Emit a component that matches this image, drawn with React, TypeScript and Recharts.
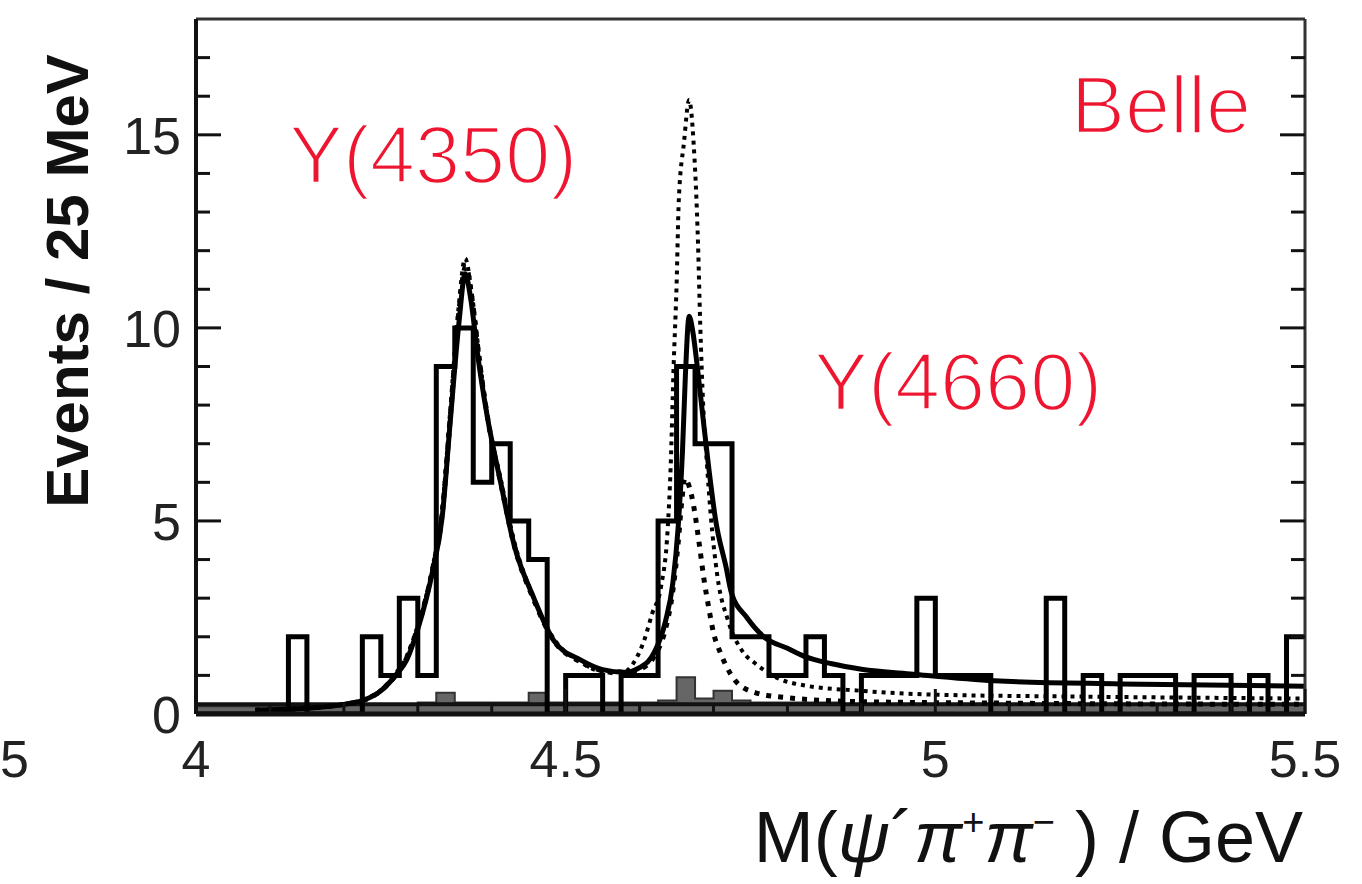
import { Area, ComposedChart, Line, ReferenceLine, XAxis, YAxis } from "recharts"

// histogram: events per 25 MeV bin, starting at 4.0 GeV
const BIN_START = 4.0
const BIN_WIDTH = 0.025
const counts = [
  0, 0, 0, 0, 0, 2, 0, 0, 0, 2, 1, 3, 1, 9, 10, 6, 7, 5, 4, 0, 1, 1, 0, 1, 1, 5,
  9, 7, 7, 2, 2, 1, 1, 2, 1, 0, 1, 1, 1, 3, 1, 1, 1, 0, 0, 0, 3, 0, 1, 0, 1, 1,
  1, 0, 1, 1, 0, 1, 0, 2,
]
// shaded sideband background
const bkgCounts = [
  0.2, 0.2, 0.2, 0.2, 0.2, 0.2, 0.2, 0.25, 0.25, 0.25, 0.25, 0.25, 0.3, 0.55,
  0.3, 0.3, 0.3, 0.3, 0.55, 0.3, 0.3, 0.3, 0.3, 0.3, 0.3, 0.35, 0.95, 0.4, 0.6,
  0.35, 0.3, 0.3, 0.3, 0.3, 0.3, 0.25, 0.25, 0.25, 0.25, 0.25, 0.25, 0.25, 0.25,
  0.25, 0.25, 0.25, 0.25, 0.25, 0.25, 0.25, 0.25, 0.25, 0.25, 0.25, 0.25, 0.25,
  0.25, 0.25, 0.25, 0.25,
]

// solid: total fit
const fitMass = [
  4.08, 4.15, 4.2, 4.23, 4.25, 4.27, 4.285, 4.3, 4.32, 4.333, 4.344, 4.356,
  4.364, 4.372, 4.381, 4.394, 4.412, 4.43, 4.457, 4.484, 4.52, 4.55, 4.58, 4.6,
  4.62, 4.635, 4.645, 4.652, 4.658, 4.662, 4.667, 4.672, 4.678, 4.685, 4.694,
  4.703, 4.717, 4.724, 4.745, 4.768, 4.8, 4.822, 4.86, 4.9, 4.97, 5.08, 5.25,
  5.5,
]
const fitTotal = [
  0.1, 0.15, 0.25, 0.38, 0.6, 1.0, 1.4, 2.2, 3.7, 5.1, 7.6, 10.2, 11.4, 10.7,
  9.3, 7.7, 6.0, 4.4, 3.0, 1.9, 1.4, 1.15, 1.08, 1.2, 1.6, 2.4, 3.4, 4.8, 6.8,
  8.8, 10.3, 9.9, 9.0, 7.8, 6.3, 5.0, 3.8, 3.15, 2.5, 2.0, 1.7, 1.5, 1.3, 1.16,
  1.03, 0.86, 0.78, 0.72,
]

// fine dots: second solution, tall Y(4660)
const altMass = [
  4.08, 4.15, 4.2, 4.23, 4.25, 4.27, 4.285, 4.3, 4.32, 4.333, 4.344, 4.355,
  4.364, 4.373, 4.383, 4.395, 4.412, 4.43, 4.457, 4.484, 4.52, 4.55, 4.58,
  4.591, 4.606, 4.617, 4.629, 4.638, 4.642, 4.646, 4.65, 4.653, 4.66, 4.667,
  4.673, 4.679, 4.682, 4.686, 4.691, 4.696, 4.705, 4.72, 4.74, 4.757, 4.79,
  4.82, 4.9, 5.0, 5.2, 5.5,
]
const altTotal = [
  0.1, 0.15, 0.25, 0.4, 0.62, 1.05, 1.5, 2.3, 3.8, 5.3, 7.9, 10.5, 11.8, 10.9,
  9.3, 7.6, 6.1, 4.5, 3.0, 1.95, 1.35, 1.1, 1.1, 1.3, 1.9, 2.6, 3.3, 4.8, 6.4,
  9.0, 11.1, 13.3, 14.8, 15.9, 14.8, 12.2, 10.1, 8.0, 6.5, 5.2, 3.6, 2.4, 1.6,
  1.3, 0.9, 0.75, 0.6, 0.5, 0.45, 0.4,
]

// coarse dots: low Y(4660)
const lowMass = [
  4.08, 4.15, 4.2, 4.23, 4.25, 4.27, 4.285, 4.3, 4.32, 4.333, 4.344, 4.355,
  4.365, 4.373, 4.383, 4.395, 4.412, 4.43, 4.457, 4.484, 4.52, 4.55, 4.58, 4.6,
  4.62, 4.635, 4.645, 4.652, 4.657, 4.661, 4.667, 4.673, 4.68, 4.687, 4.694,
  4.7, 4.709, 4.717, 4.73, 4.757, 4.8, 4.9, 5.1, 5.5,
]
const lowTotal = [
  0.1, 0.15, 0.25, 0.38, 0.6, 1.0, 1.45, 2.25, 3.75, 5.2, 7.7, 10.3, 11.6, 10.8,
  9.2, 7.6, 6.0, 4.4, 2.95, 1.9, 1.35, 1.12, 1.05, 1.15, 1.5, 2.2, 3.2, 4.4,
  5.5, 6.1, 5.9, 5.4, 4.5, 3.5, 2.7, 2.1, 1.6, 1.25, 0.85, 0.55, 0.42, 0.32,
  0.28, 0.25,
]

const xTicks = [
  4, 4.1, 4.2, 4.3, 4.4, 4.5, 4.6, 4.7, 4.8, 4.9, 5, 5.1, 5.2, 5.3, 5.4, 5.5,
]
const xLabels = [4, 4.5, 5, 5.5]
const yTicks = [0, 1, 2, 3, 4, 5, 6, 7, 8, 9, 10, 11, 12, 13, 14, 15, 16, 17]
const yLabels = [0, 5, 10, 15]

const histData = counts
  .map((n, i) => ({ m: BIN_START + i * BIN_WIDTH, n }))
  .concat([{ m: 5.5, n: counts[counts.length - 1] }])
const bkgData = bkgCounts
  .map((n, i) => ({ m: BIN_START + i * BIN_WIDTH, n }))
  .concat([{ m: 5.5, n: bkgCounts[bkgCounts.length - 1] }])
const fitData = fitMass.map((m, i) => ({ m, n: fitTotal[i] }))
const altData = altMass.map((m, i) => ({ m, n: altTotal[i] }))
const lowData = lowMass.map((m, i) => ({ m, n: lowTotal[i] }))

const NUM_FONT = "'Liberation Sans', Arial, sans-serif"
const RED = "#ee1530"

function BottomTick({ x, y, payload }: any) {
  const major = xLabels.includes(payload.value)
  return (
    <g>
      <line x1={x} x2={x} y1={y} y2={y - (major ? 25 : 11)} stroke="#111" strokeWidth={3} />
      {major && (
        <text x={x} y={y + 63} textAnchor="middle" fontSize={52} fill="#222" fontFamily={NUM_FONT}>
          {payload.value}
        </text>
      )}
    </g>
  )
}

function TopTick({ x, y, payload }: any) {
  const major = xLabels.includes(payload.value)
  return <line x1={x} x2={x} y1={y} y2={y + (major ? 25 : 11)} stroke="#111" strokeWidth={3} />
}

function LeftTick({ x, y, payload }: any) {
  const major = yLabels.includes(payload.value)
  return (
    <g>
      <line x1={x} x2={x + (major ? 25 : 14)} y1={y} y2={y} stroke="#111" strokeWidth={3} />
      {major && (
        <text x={x - 15} y={y + 19} textAnchor="end" fontSize={52} fill="#222" fontFamily={NUM_FONT}>
          {payload.value}
        </text>
      )}
    </g>
  )
}

function RightTick({ x, y, payload }: any) {
  const major = yLabels.includes(payload.value)
  return <line x1={x} x2={x - (major ? 25 : 14)} y1={y} y2={y} stroke="#111" strokeWidth={3} />
}

// thin red labels: white stroke painted over the fill slims the glyphs
const redText = {
  fontSize: 81,
  fill: RED,
  fontFamily: NUM_FONT,
  stroke: "#fff",
  strokeWidth: 2.5,
}

export default function App() {
  return (
    <div style={{ position: "absolute", left: 0, top: 0, background: "#fff" }}>
      <ComposedChart
        width={1362}
        height={884}
        margin={{ top: 18, right: 56, bottom: 110, left: 116 }}
      >
        <XAxis
          xAxisId="b"
          dataKey="m"
          type="number"
          domain={[4, 5.5]}
          allowDataOverflow
          ticks={xTicks}
          interval={0}
          height={60}
          tickSize={0}
          tickMargin={0}
          tickLine={false}
          axisLine={{ stroke: "#111", strokeWidth: 5 }}
          tick={BottomTick}
        />
        <XAxis
          xAxisId="t"
          orientation="top"
          type="number"
          domain={[4, 5.5]}
          allowDataOverflow
          ticks={xTicks}
          interval={0}
          height={1}
          tickSize={0}
          tickMargin={0}
          tickLine={false}
          axisLine={{ stroke: "#333", strokeWidth: 3 }}
          tick={TopTick}
        />
        <YAxis
          yAxisId="l"
          type="number"
          domain={[0, 18]}
          allowDataOverflow
          ticks={yTicks}
          interval={0}
          width={80}
          tickSize={0}
          tickMargin={0}
          tickLine={false}
          axisLine={{ stroke: "#111", strokeWidth: 4 }}
          tick={LeftTick}
        />
        <YAxis
          yAxisId="r"
          orientation="right"
          type="number"
          domain={[0, 18]}
          allowDataOverflow
          ticks={yTicks}
          interval={0}
          width={1}
          tickSize={0}
          tickMargin={0}
          tickLine={false}
          axisLine={{ stroke: "#333", strokeWidth: 3 }}
          tick={RightTick}
        />

        <Area
          xAxisId="b"
          yAxisId="l"
          data={bkgData}
          dataKey="n"
          type="stepAfter"
          fill="#666"
          fillOpacity={1}
          stroke="#333"
          strokeWidth={2}
          isAnimationActive={false}
        />
        <ReferenceLine xAxisId="b" yAxisId="l" y={0.25} stroke="#111" strokeWidth={4} />
        <Line
          xAxisId="b"
          yAxisId="l"
          data={histData}
          dataKey="n"
          type="stepAfter"
          stroke="#000"
          strokeWidth={5}
          dot={false}
          isAnimationActive={false}
        />
        <Line
          xAxisId="b"
          yAxisId="l"
          data={lowData}
          dataKey="n"
          type="monotone"
          stroke="#000"
          strokeWidth={5}
          strokeDasharray="5 7"
          dot={false}
          isAnimationActive={false}
        />
        <Line
          xAxisId="b"
          yAxisId="l"
          data={altData}
          dataKey="n"
          type="monotone"
          stroke="#000"
          strokeWidth={4}
          strokeDasharray="4 5"
          dot={false}
          isAnimationActive={false}
        />
        <Line
          xAxisId="b"
          yAxisId="l"
          data={fitData}
          dataKey="n"
          type="monotone"
          stroke="#000"
          strokeWidth={5}
          dot={false}
          isAnimationActive={false}
        />

        <text x={289} y={183} {...redText}>
          Y(4350)
        </text>
        <text x={814} y={410} {...redText}>
          Y(4660)
        </text>
        <text x={1251} y={133} textAnchor="end" {...redText}>
          Belle
        </text>
        <text
          x={88}
          y={281}
          transform="rotate(-90 88 281)"
          textAnchor="middle"
          fontSize={60}
          fontWeight="bold"
          fill="#111"
          fontFamily={NUM_FONT}
        >
          Events / 25 MeV
        </text>
        <text x={1303} y={862} textAnchor="end" fontSize={72} fill="#111" fontFamily={NUM_FONT}>
          M(<tspan fontStyle="italic">ψ</tspan>´<tspan fontStyle="italic">π</tspan>
          <tspan fontSize={38} dy={-27}>+</tspan>
          <tspan fontStyle="italic" dy={27}>π</tspan>
          <tspan fontSize={38} dy={-27}>−</tspan>
          <tspan dy={27}> ) / GeV</tspan>
        </text>
        <text x={0} y={777} fontSize={52} fill="#222" fontFamily={NUM_FONT}>
          5
        </text>
      </ComposedChart>
    </div>
  )
}
